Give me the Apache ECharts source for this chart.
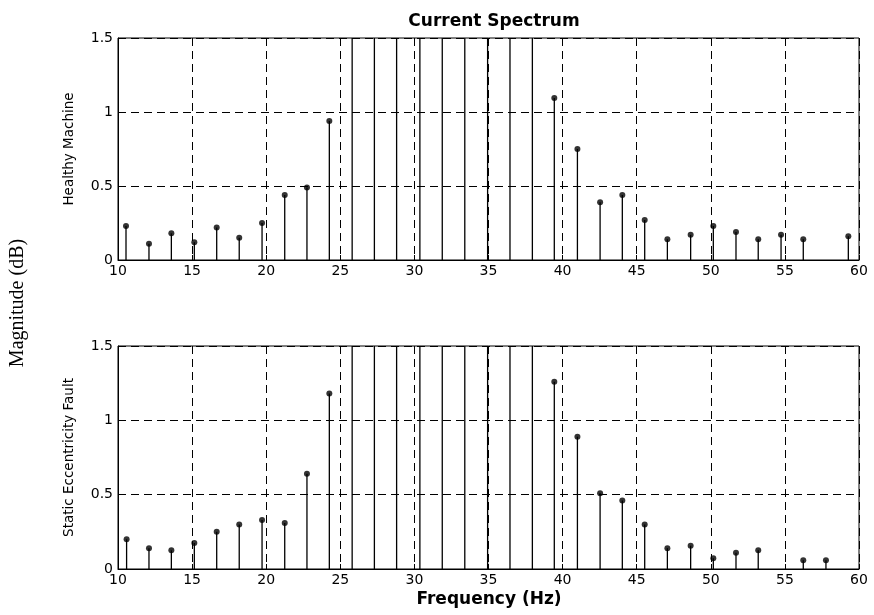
<!DOCTYPE html>
<html lang="en">
	<head>
		<meta charset="UTF-8" />
		<title>Current Spectrum</title>
		<script src="https://cdn.jsdelivr.net/npm/echarts@6/dist/echarts.min.js"></script>
		<style>
			* {
				margin: 0;
				padding: 0;
			}
			html,
			body {
				height: 100%;
				background: #fff;
			}
		</style>
	</head>
	<body>
		<div id="main" style="width:874px;height:615px;"></div>

		<script type="text/javascript">
			// 频率 (Hz) 和幅值, 读自原图
			var healthyFreq = [10.54, 12.09, 13.6, 15.15, 16.66, 18.18, 19.72, 21.25, 22.75, 24.26,
				25.8, 27.3, 28.8, 30.37, 31.88, 33.4, 34.94, 36.45, 37.96,
				39.44, 41.0, 42.53, 44.03, 45.54, 47.07, 48.64, 50.17, 51.7, 53.2, 54.74, 56.24, 59.28];
			var healthyMag = [0.23, 0.11, 0.18, 0.12, 0.22, 0.15, 0.25, 0.44, 0.49, 0.94,
				3, 3, 3, 3, 3, 3, 3, 3, 3,
				1.095, 0.75, 0.39, 0.44, 0.27, 0.14, 0.17, 0.23, 0.19, 0.14, 0.17, 0.14, 0.16];

			var faultFreq = [10.58, 12.09, 13.6, 15.15, 16.66, 18.18, 19.72, 21.25, 22.75, 24.26,
				25.8, 27.3, 28.8, 30.37, 31.88, 33.4, 34.94, 36.45, 37.96,
				39.44, 41.0, 42.53, 44.03, 45.54, 47.07, 48.64, 50.17, 51.7, 53.2, 56.24, 57.77];
			var faultMag = [0.2, 0.14, 0.126, 0.175, 0.25, 0.3, 0.33, 0.31, 0.64, 1.18,
				3, 3, 3, 3, 3, 3, 3, 3, 3,
				1.26, 0.89, 0.51, 0.46, 0.3, 0.14, 0.157, 0.072, 0.11, 0.126, 0.059, 0.059];

			var xTicks = [10, 60, 5]; // min, max, interval
			var yTicks = [0, 1.5, 0.5];

			var font = "'DejaVu Sans', sans-serif";

			function pairs(xs, ys) {
				var out = [];
				for (var i = 0; i < xs.length; i++) out.push([xs[i], ys[i]]);
				return out;
			}

			// 竖线 (stem)
			function stemItem(params, api) {
				var base = api.coord([api.value(0), 0]);
				var tip = api.coord([api.value(0), api.value(1)]);
				return {
					type: "line",
					shape: { x1: base[0], y1: base[1], x2: tip[0], y2: tip[1] },
					style: { stroke: "#000", lineWidth: 1.3 }
				};
			}

			function xAxisCfg(idx) {
				return {
					type: "value",
					gridIndex: idx,
					min: xTicks[0],
					max: xTicks[1],
					interval: xTicks[2],
					axisLine: { lineStyle: { color: "#000", width: 1 } },
					axisTick: { inside: true, length: 5, lineStyle: { color: "#000" } },
					axisLabel: { color: "#000", fontFamily: font, fontSize: 14, margin: 4 },
					splitLine: { show: true, lineStyle: { color: "#000", type: [8, 5], width: 1 } }
				};
			}

			function yAxisCfg(idx, name) {
				return {
					type: "value",
					gridIndex: idx,
					min: yTicks[0],
					max: yTicks[1],
					interval: yTicks[2],
					name: name,
					nameLocation: "middle",
					nameGap: 42,
					nameTextStyle: { color: "#000", fontFamily: font, fontSize: 13.5 },
					axisLine: { show: true, lineStyle: { color: "#000", width: 1 } },
					axisTick: { show: true, inside: true, length: 5, lineStyle: { color: "#000" } },
					axisLabel: { color: "#000", fontFamily: font, fontSize: 14, margin: 5 },
					splitLine: { show: true, lineStyle: { color: "#000", type: [8, 5], width: 1 } }
				};
			}

			function stemSeries(idx, data) {
				return [
					{
						type: "custom",
						xAxisIndex: idx,
						yAxisIndex: idx,
						clip: true,
						renderItem: stemItem,
						data: data,
						silent: true
					},
					{
						type: "scatter",
						xAxisIndex: idx,
						yAxisIndex: idx,
						clip: true,
						symbol: "circle",
						symbolSize: 6,
						itemStyle: { color: "#000" },
						data: data,
						silent: true
					}
				];
			}

			var option = {
				animation: false,
				title: {
					text: "Current Spectrum",
					left: 489,
					top: 8,
					textAlign: "center",
					textStyle: { color: "#000", fontFamily: font, fontSize: 17, fontWeight: "bold" }
				},
				grid: [
					{ left: 118, right: 15, top: 38, height: 222, show: true, borderColor: "#000", borderWidth: 1 },
					{ left: 118, right: 15, top: 346, height: 223, show: true, borderColor: "#000", borderWidth: 1 }
				],
				xAxis: [xAxisCfg(0), xAxisCfg(1)],
				yAxis: [yAxisCfg(0, "Healthy Machine"), yAxisCfg(1, "Static Eccentricity Fault")],
				series: stemSeries(0, pairs(healthyFreq, healthyMag)).concat(
					stemSeries(1, pairs(faultFreq, faultMag))
				),
				graphic: [
					{
						type: "text",
						x: 489,
						y: 600,
						style: {
							text: "Frequency (Hz)",
							fill: "#000",
							font: "bold 17px " + font,
							textAlign: "center",
							textVerticalAlign: "middle"
						}
					},
					{
						type: "text",
						x: 18,
						y: 303,
						rotation: Math.PI / 2,
						style: {
							text: "Magnitude (dB)",
							fill: "#000",
							font: "20px 'Liberation Serif', 'Times New Roman', serif",
							textAlign: "center",
							textVerticalAlign: "middle"
						}
					}
				]
			};

			var myChart = echarts.init(document.getElementById("main"));
			myChart.setOption(option);
		</script>
	</body>
</html>
